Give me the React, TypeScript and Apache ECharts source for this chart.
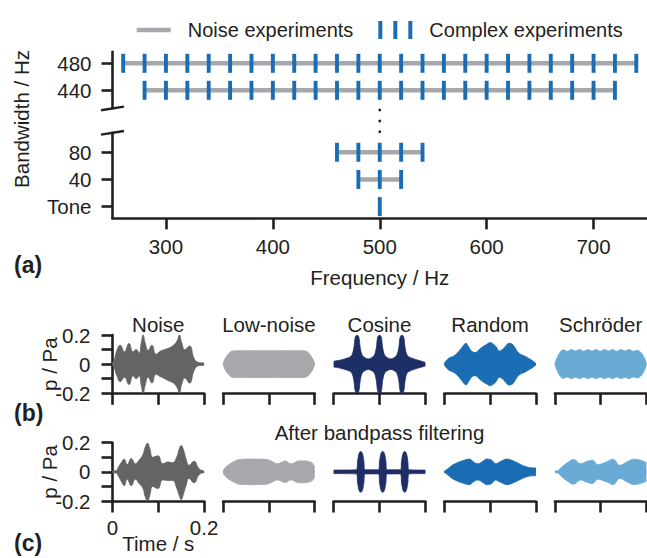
import React, { useEffect, useRef } from "react";
import * as echarts from "echarts";

// ---------------- Panel (a) data ----------------
const freqTicks = [300, 400, 500, 600, 700];
const upperRows = ["440", "480"]; // values 0, 1 in the upper (broken) part
const lowerRows = ["Tone", "40", "80"]; // values 0, 1, 2 in the lower part

const noise480 = [260, 740];
const noise440 = [280, 720];
const noise80 = [460, 540];
const noise40 = [480, 520];

const complex480 = [260, 280, 300, 320, 340, 360, 380, 400, 420, 440, 460, 480, 500, 520, 540, 560, 580, 600, 620, 640, 660, 680, 700, 720, 740];
const complex440 = [280, 300, 320, 340, 360, 380, 400, 420, 440, 460, 480, 500, 520, 540, 560, 580, 600, 620, 640, 660, 680, 700, 720];
const complex80 = [460, 480, 500, 520, 540];
const complex40 = [480, 500, 520];
const complexTone = [500];

// ---------------- Panels (b), (c): envelopes (Pa) vs time (s) ----------------
const waveTitles = ["Noise", "Low-noise", "Cosine", "Random", "Schröder"];

// (b) original signals
const noiseT_b = [0, 0.004, 0.009, 0.017, 0.026, 0.036, 0.045, 0.052, 0.058, 0.063, 0.067, 0.071, 0.078, 0.086, 0.095, 0.104, 0.114, 0.123, 0.133, 0.141, 0.146, 0.151, 0.158, 0.168, 0.178, 0.185, 0.192, 0.2];
const noiseUp_b = [0.01, 0.03, 0.09, 0.13, 0.085, 0.142, 0.085, 0.1, 0.075, 0.15, 0.2, 0.15, 0.095, 0.13, 0.068, 0.088, 0.1, 0.11, 0.13, 0.16, 0.2, 0.15, 0.1, 0.125, 0.04, 0.015, 0.01, 0.008];
const noiseLo_b = [0.01, 0.03, 0.075, 0.12, 0.09, 0.14, 0.08, 0.1, 0.08, 0.15, 0.2, 0.15, 0.09, 0.13, 0.07, 0.085, 0.1, 0.115, 0.13, 0.16, 0.2, 0.14, 0.095, 0.13, 0.045, 0.015, 0.01, 0.008];

const lowT_b = [0, 0.004, 0.01, 0.018, 0.03, 0.1, 0.17, 0.182, 0.19, 0.196, 0.2];
const lowA_b = [0.005, 0.035, 0.065, 0.088, 0.092, 0.092, 0.092, 0.088, 0.065, 0.035, 0.005];

const cosT_b = [0, 0.015, 0.03, 0.039, 0.044, 0.047, 0.051, 0.055, 0.058, 0.063, 0.0755, 0.088, 0.093, 0.096, 0.1, 0.104, 0.107, 0.112, 0.1245, 0.137, 0.142, 0.145, 0.149, 0.153, 0.156, 0.161, 0.175, 0.19, 0.2];
const cosA_b = [0.02, 0.028, 0.042, 0.058, 0.11, 0.185, 0.2, 0.185, 0.11, 0.058, 0.036, 0.058, 0.11, 0.185, 0.2, 0.185, 0.11, 0.058, 0.036, 0.058, 0.11, 0.185, 0.2, 0.185, 0.11, 0.058, 0.036, 0.022, 0.012];

const randT_b = [0, 0.006, 0.012, 0.02, 0.028, 0.035, 0.041, 0.047, 0.053, 0.06, 0.068, 0.076, 0.084, 0.092, 0.1, 0.106, 0.113, 0.12, 0.127, 0.134, 0.141, 0.147, 0.153, 0.16, 0.168, 0.176, 0.184, 0.192, 0.2];
const randA_b = [0.005, 0.03, 0.045, 0.055, 0.075, 0.1, 0.125, 0.143, 0.12, 0.088, 0.08, 0.1, 0.12, 0.135, 0.148, 0.14, 0.12, 0.09, 0.1, 0.125, 0.143, 0.14, 0.12, 0.085, 0.065, 0.055, 0.04, 0.025, 0.005];

const schT_b = [0, 0.005, 0.011, 0.018, 0.027, 0.036, 0.045, 0.054, 0.063, 0.072, 0.081, 0.09, 0.099, 0.108, 0.117, 0.126, 0.135, 0.144, 0.153, 0.162, 0.171, 0.18, 0.188, 0.195, 0.2];
const schA_b = [0.005, 0.045, 0.08, 0.098, 0.088, 0.1, 0.09, 0.1, 0.088, 0.1, 0.09, 0.1, 0.088, 0.1, 0.09, 0.1, 0.088, 0.1, 0.09, 0.1, 0.088, 0.095, 0.08, 0.045, 0.005];

// (c) after bandpass filtering
const noiseT_c = [0, 0.008, 0.013, 0.02, 0.0255, 0.032, 0.041, 0.05, 0.058, 0.066, 0.0715, 0.0765, 0.0815, 0.088, 0.099, 0.11, 0.121, 0.131, 0.14, 0.146, 0.15, 0.155, 0.161, 0.167, 0.178, 0.189, 0.2];
const noiseUp_c = [0.005, 0.008, 0.033, 0.068, 0.088, 0.05, 0.092, 0.056, 0.08, 0.115, 0.17, 0.197, 0.16, 0.1, 0.11, 0.056, 0.068, 0.063, 0.1, 0.16, 0.18, 0.15, 0.085, 0.045, 0.073, 0.021, 0.005];
const noiseLo_c = [0.005, 0.008, 0.03, 0.07, 0.095, 0.05, 0.095, 0.05, 0.08, 0.11, 0.17, 0.2, 0.16, 0.1, 0.115, 0.055, 0.06, 0.06, 0.11, 0.165, 0.19, 0.15, 0.09, 0.045, 0.075, 0.02, 0.005];

const lowT_c = [0, 0.008, 0.02, 0.035, 0.06, 0.095, 0.108, 0.118, 0.136, 0.148, 0.165, 0.18, 0.195, 0.2];
const lowA_c = [0.01, 0.04, 0.065, 0.085, 0.088, 0.085, 0.07, 0.055, 0.075, 0.055, 0.075, 0.075, 0.06, 0.03];

const cosT_c = [0, 0.05, 0.052, 0.0545, 0.057, 0.059, 0.061, 0.0635, 0.066, 0.068, 0.098, 0.1, 0.1025, 0.105, 0.107, 0.109, 0.1115, 0.114, 0.116, 0.146, 0.148, 0.1505, 0.153, 0.155, 0.157, 0.1595, 0.162, 0.164, 0.2];
const cosA_c = [0.012, 0.014, 0.07, 0.118, 0.137, 0.14, 0.137, 0.118, 0.07, 0.014, 0.014, 0.07, 0.118, 0.137, 0.14, 0.137, 0.118, 0.07, 0.014, 0.014, 0.07, 0.118, 0.137, 0.14, 0.137, 0.118, 0.07, 0.014, 0.012];

const randT_c = [0, 0.0098, 0.017, 0.032, 0.0435, 0.055, 0.064, 0.073, 0.085, 0.092, 0.1035, 0.112, 0.122, 0.137, 0.1485, 0.1635, 0.1785, 0.1935, 0.2];
const randA_c = [0.003, 0.026, 0.045, 0.068, 0.08, 0.088, 0.068, 0.056, 0.075, 0.088, 0.08, 0.056, 0.07, 0.088, 0.078, 0.056, 0.035, 0.027, 0.027];

const schT_c = [0, 0.0075, 0.0146, 0.0296, 0.041, 0.056, 0.071, 0.082, 0.0934, 0.112, 0.127, 0.142, 0.157, 0.172, 0.187, 0.2];
const schA_c = [0.005, 0.01, 0.033, 0.068, 0.085, 0.056, 0.073, 0.08, 0.05, 0.068, 0.087, 0.045, 0.068, 0.087, 0.08, 0.063];

// ---------------- styles / layout ----------------
const FONT = "Liberation Sans";
const TXT = "#231f20";
const AX = "#231f20";
const GRAY = "#a7a8ab";
const BLUE = "#1a6db2";
const waveColors = ["#636466", "#a7a8ab", "#1d2f66", "#1a6db2", "#6aabd6"];
const waveSmooth = [0.5, 0.3, 0.3, 0.4, 0.4];

const A_LEFT = 112.5;
const A_WIDTH = 534.5;
const X_MIN = 250;
const X_MAX = 750;
const UP_TOP = 51.7, UP_H = 56.6, UP_MIN = -0.667, UP_MAX = 1.43;
const LO_TOP = 132.7, LO_H = 85.6, LO_MIN = -0.43, LO_MAX = 2.72;

const COL_LEFT = [112.5, 223.1, 333.7, 444.3, 554.9];
const COL_W = 91.6;
const ROW_TOP = [335, 442.7];
const ROW_H = 58.3;

const FS = 20.5;
const axLine = { show: true, onZero: false, lineStyle: { color: AX, width: 2.6 } };
const tickStyle = { color: AX, width: 2.6 };
const labelBase = { fontFamily: FONT, fontSize: FS, color: TXT };
const gridBase = { containLabel: false, outerBoundsMode: "none" };

export default function App() {
  const ref = useRef<HTMLDivElement>(null);

  useEffect(() => {
    if (!ref.current) return;
    const chart = echarts.init(ref.current, undefined, { renderer: "svg" });

    const grids: any[] = [
      { ...gridBase, left: A_LEFT, top: UP_TOP, width: A_WIDTH, height: UP_H },
      { ...gridBase, left: A_LEFT, top: LO_TOP, width: A_WIDTH, height: LO_H },
    ];
    const xAxes: any[] = [
      { gridIndex: 0, type: "value", min: X_MIN, max: X_MAX, show: false },
      {
        gridIndex: 1, type: "value", min: X_MIN, max: X_MAX,
        axisLine: axLine,
        axisTick: { show: true, length: 11, lineStyle: tickStyle, customValues: freqTicks },
        axisLabel: { ...labelBase, margin: 18, customValues: freqTicks },
        splitLine: { show: false },
        name: "Frequency / Hz", nameLocation: "middle", nameGap: 49,
        nameTextStyle: { ...labelBase },
      },
    ];
    const yAxes: any[] = [
      {
        gridIndex: 0, type: "value", min: UP_MIN, max: UP_MAX,
        axisLine: axLine,
        axisTick: { show: true, length: 11, lineStyle: tickStyle, customValues: [0, 1] },
        axisLabel: { ...labelBase, margin: 21, customValues: [0, 1], formatter: (v: number) => upperRows[Math.round(v)] },
        splitLine: { show: false },
      },
      {
        gridIndex: 1, type: "value", min: LO_MIN, max: LO_MAX,
        axisLine: axLine,
        axisTick: { show: true, length: 11, lineStyle: tickStyle, customValues: [0, 1, 2] },
        axisLabel: { ...labelBase, margin: 21, customValues: [0, 1, 2], formatter: (v: number) => lowerRows[Math.round(v)] },
        splitLine: { show: false },
      },
    ];

    const series: any[] = [];
    const noiseLine = (band: number[], row: number, axis: number) => ({
      type: "line", name: "Noise experiments", xAxisIndex: axis, yAxisIndex: axis,
      data: [[band[0], row], [band[1], row]], symbol: "none", silent: true,
      color: GRAY, itemStyle: { color: GRAY }, lineStyle: { color: GRAY, width: 4.5 }, z: 2,
    });
    series.push(noiseLine(noise480, 1, 0));
    series.push(noiseLine(noise440, 0, 0));
    series.push(noiseLine(noise80, 2, 1));
    series.push(noiseLine(noise40, 1, 1));
    const tickSeries = (data: number[][], axis: number) => ({
      type: "scatter", name: "Complex experiments", xAxisIndex: axis, yAxisIndex: axis,
      data, symbol: "rect", symbolSize: [3.9, 19], silent: true,
      itemStyle: { color: BLUE, opacity: 1 }, color: BLUE, z: 3,
    });
    series.push(tickSeries([...complex480.map((f) => [f, 1]), ...complex440.map((f) => [f, 0])], 0));
    series.push(tickSeries([...complex80.map((f) => [f, 2]), ...complex40.map((f) => [f, 1]), ...complexTone.map((f) => [f, 0])], 1));

    const waves = [
      [noiseT_b, noiseUp_b, noiseLo_b], [lowT_b, lowA_b, lowA_b], [cosT_b, cosA_b, cosA_b], [randT_b, randA_b, randA_b], [schT_b, schA_b, schA_b],
      [noiseT_c, noiseUp_c, noiseLo_c], [lowT_c, lowA_c, lowA_c], [cosT_c, cosA_c, cosA_c], [randT_c, randA_c, randA_c], [schT_c, schA_c, schA_c],
    ];

    waves.forEach((w, k) => {
      const row = Math.floor(k / 5);
      const col = k % 5;
      const idx = k + 2;
      grids.push({ ...gridBase, left: COL_LEFT[col], top: ROW_TOP[row], width: COL_W, height: ROW_H });
      const showXLabels = row === 1 && col === 0;
      xAxes.push({
        gridIndex: idx, type: "value", min: 0, max: 0.2, interval: 0.1,
        axisLine: axLine,
        axisTick: { show: true, length: 11.5, lineStyle: tickStyle },
        axisLabel: {
          ...labelBase, show: showXLabels, margin: 16, showMinLabel: true, showMaxLabel: true,
          formatter: (v: number) => (Math.abs(v) < 1e-9 ? "0" : Math.abs(v - 0.2) < 1e-9 ? "0.2" : ""),
        },
        splitLine: { show: false },
        name: showXLabels ? "Time / s" : "", nameLocation: "middle", nameGap: 32,
        nameMoveOverlap: false,
        nameTextStyle: { ...labelBase },
      });
      yAxes.push({
        gridIndex: idx, type: "value", min: -0.2, max: 0.2, interval: 0.1, show: col === 0,
        axisLine: axLine,
        axisTick: { show: true, length: 11, lineStyle: tickStyle },
        axisLabel: {
          ...labelBase, margin: 22, showMinLabel: true, showMaxLabel: true,
          formatter: (v: number) => (Math.abs(v) < 1e-9 ? "0" : Math.abs(Math.abs(v) - 0.2) < 1e-9 ? (v < 0 ? "-0.2" : "0.2") : ""),
        },
        splitLine: { show: false },
      });
      const color = waveColors[col];
      const [t, up, lo] = w;
      const common = {
        type: "line", xAxisIndex: idx, yAxisIndex: idx, symbol: "none", smooth: waveSmooth[col], silent: true,
        lineStyle: { color, width: 0.8 }, areaStyle: { color, opacity: 1 }, color, z: 2,
      };
      series.push({ ...common, data: t.map((x, i) => [x, up[i]]) });
      series.push({ ...common, data: t.map((x, i) => [x, -lo[i]]) });
      // thin carrier line along zero that also hides the seam between the two halves
      series.push({
        type: "line", xAxisIndex: idx, yAxisIndex: idx, symbol: "none", silent: true,
        data: [[t[0], 0], [t[t.length - 1], 0]], lineStyle: { color, width: 2.4 }, z: 3,
      });
    });

    const txt = (text: string, x: number, y: number, extra: any = {}, rot = 0) => {
      const size = extra.size || FS;
      return {
        type: "text", x, y, rotation: rot, silent: true,
        style: {
          text, fill: TXT, font: `${extra.bold ? "bold " : ""}${size}px "${FONT}"`,
          fontFamily: FONT, fontSize: size, fontWeight: extra.bold ? "bold" : "normal",
          align: extra.align || "center", verticalAlign: "middle",
          textAlign: extra.align || "center", textVerticalAlign: "middle",
        },
      };
    };

    const dotX = A_LEFT + ((500 - X_MIN) / (X_MAX - X_MIN)) * A_WIDTH;
    const graphic: any[] = [
      txt("(a)", 14, 265, { bold: true, align: "left", size: 23 }),
      txt("(b)", 14, 413, { bold: true, align: "left", size: 23 }),
      txt("(c)", 14, 543, { bold: true, align: "left", size: 23 }),
      txt("Bandwidth / Hz", 21, 119, {}, Math.PI / 2),
      txt("p / Pa", 49, ROW_TOP[0] + ROW_H / 2, {}, Math.PI / 2),
      txt("p / Pa", 49, ROW_TOP[1] + ROW_H / 2, {}, Math.PI / 2),
      ...waveTitles.map((s, c) => txt(s, COL_LEFT[c] + COL_W / 2, 324)),
      txt("After bandpass filtering", COL_LEFT[2] + COL_W / 2, 432),
      ...[110, 121, 131.7].map((y) => ({ type: "circle", shape: { cx: dotX, cy: y, r: 1.4 }, style: { fill: AX }, silent: true })),
      { type: "line", shape: { x1: 101, y1: 110.2, x2: 124, y2: 106.6 }, style: { stroke: AX, lineWidth: 2.4 }, silent: true },
      { type: "line", shape: { x1: 101, y1: 134.6, x2: 124, y2: 131 }, style: { stroke: AX, lineWidth: 2.4 }, silent: true },
    ];

    chart.setOption({
      animation: false,
      backgroundColor: "#ffffff",
      textStyle: { fontFamily: FONT },
      legend: {
        data: [
          { name: "Noise experiments", icon: "path://M0,0H34V4.5H0Z" },
          { name: "Complex experiments", icon: "path://M0,0H4V18H0Z M15,0H19V18H15Z M30,0H34V18H30Z" },
        ],
        left: 131.7, top: 15, itemWidth: 34, itemHeight: 18, itemGap: 25,
        selectedMode: false,
        textStyle: { ...labelBase, fontSize: 20, padding: [0, 0, 0, 12] },
      },
      grid: grids,
      xAxis: xAxes,
      yAxis: yAxes,
      series,
      graphic,
    });

    return () => chart.dispose();
  }, []);

  return (
    <div
      ref={ref}
      style={{ position: "fixed", left: 0, top: 0, width: 647, height: 558, background: "#fff" }}
    />
  );
}
